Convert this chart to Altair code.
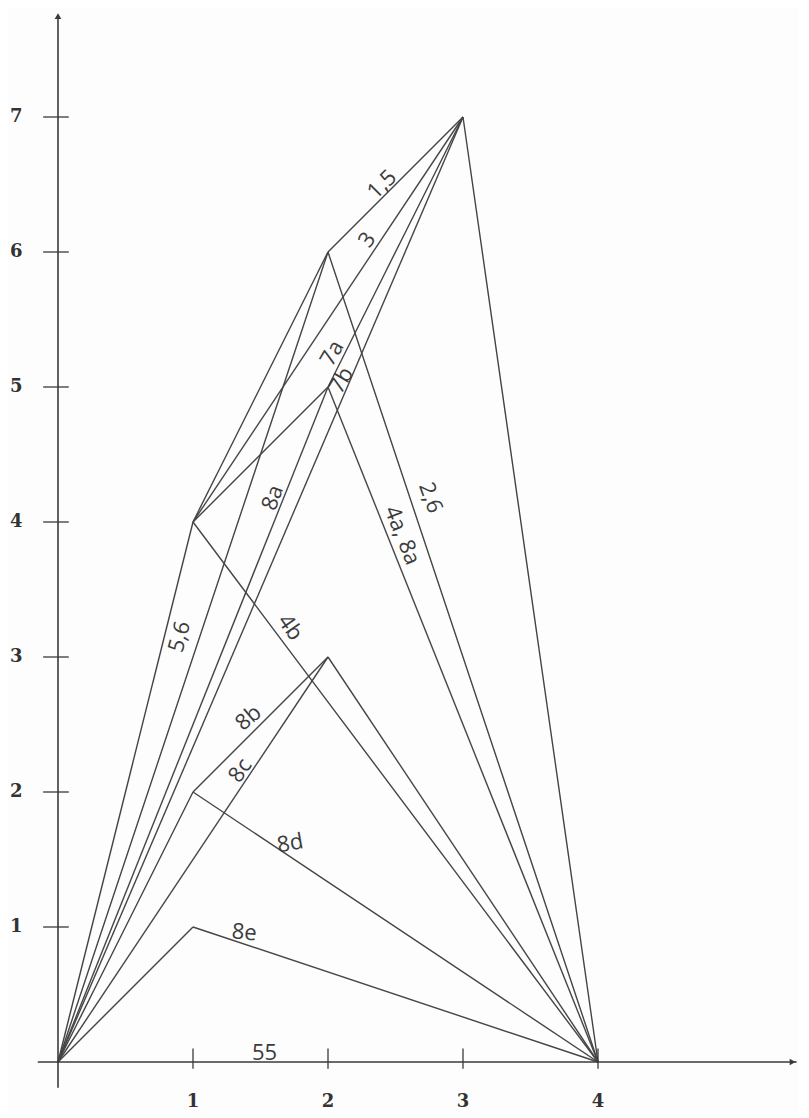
import altair as alt
import pandas as pd

# ---- data ----
# segments of the drawn paths (start x, start y, end x, end y)
seg_x1 = [0, 0, 0, 0, 0, 0, 0, 1, 1, 1, 1, 2, 2, 2, 2, 3, 1, 1, 2, 1]
seg_y1 = [0, 0, 0, 0, 0, 0, 0, 4, 4, 4, 4, 6, 6, 5, 5, 7, 2, 2, 3, 1]
seg_x2 = [1, 2, 2, 3, 1, 2, 1, 2, 2, 3, 4, 3, 4, 3, 4, 4, 2, 4, 4, 4]
seg_y2 = [4, 6, 5, 7, 2, 3, 1, 6, 5, 7, 0, 7, 0, 7, 0, 0, 3, 0, 0, 0]

# handwritten labels
lab_text = ["1,5", "3", "7a", "7b", "2,6", "4a, 8a", "8a", "4b", "5,6",
            "8b", "8c", "8d", "8e", "55"]
lab_x = [2.40, 2.29, 2.03, 2.10, 2.76, 2.55, 1.59, 1.72, 0.90,
         1.41, 1.35, 1.72, 1.38, 1.53]
lab_y = [6.50, 6.09, 5.25, 5.05, 4.18, 3.90, 4.18, 3.22, 3.15,
         2.55, 2.16, 1.62, 0.96, 0.07]
lab_angle = [315, 305, 300, 300, 70, 68, 290, 55, 285,
             320, 305, 350, 5, 0]

x_ticks = [1, 2, 3, 4]
y_ticks = [1, 2, 3, 4, 5, 6, 7]

# ---- scales (135 px per unit, origin at page px (58, 1062)) ----
W, H = 790, 1104
xmin = -50 / 135
xmax = xmin + W / 135
ymax = 1054 / 135
ymin = ymax - H / 135
xs = alt.Scale(domain=[xmin, xmax], nice=False, zero=False)
ys = alt.Scale(domain=[ymin, ymax], nice=False, zero=False)

ink = "#454545"

segs = pd.DataFrame({"x": seg_x1, "y": seg_y1, "x2": seg_x2, "y2": seg_y2})
seg_layer = alt.Chart(segs).mark_rule(color=ink, strokeWidth=1.4).encode(
    x=alt.X("x:Q", scale=xs, axis=None),
    y=alt.Y("y:Q", scale=ys, axis=None),
    x2="x2:Q", y2="y2:Q",
)

# axis lines
axes_df = pd.DataFrame({"x": [-0.15, 0], "y": [0, -0.19],
                        "x2": [xmax - 0.01, 0], "y2": [0, ymax - 0.05]})
axes_layer = alt.Chart(axes_df).mark_rule(color="#3a3a3a", strokeWidth=1.6).encode(
    x=alt.X("x:Q", scale=xs), y=alt.Y("y:Q", scale=ys), x2="x2:Q", y2="y2:Q")

xt = pd.DataFrame({"x": x_ticks, "y": [-0.05] * 4, "x2": x_ticks, "y2": [0.10] * 4})
yt = pd.DataFrame({"x": [-0.11] * 7, "y": y_ticks, "x2": [0.08] * 7, "y2": y_ticks})
tick_layer = alt.Chart(pd.concat([xt, yt])).mark_rule(color="#3a3a3a", strokeWidth=1.3).encode(
    x=alt.X("x:Q", scale=xs), y=alt.Y("y:Q", scale=ys), x2="x2:Q", y2="y2:Q")

arrows = pd.DataFrame({"x": [0, xmax - 0.04], "y": [ymax - 0.06, 0],
                       "shape": ["triangle-up", "triangle-right"]})
arrow_layer = alt.Chart(arrows).mark_point(filled=True, color="#3a3a3a", size=45, opacity=1).encode(
    x=alt.X("x:Q", scale=xs), y=alt.Y("y:Q", scale=ys),
    shape=alt.Shape("shape:N", scale=None))

xl = pd.DataFrame({"x": x_ticks, "y": [-0.363] * 4, "t": [str(v) for v in x_ticks]})
xl_layer = alt.Chart(xl).mark_text(
    font="DejaVu Serif", fontSize=18, fontWeight="bold", color="#333333",
    baseline="bottom", align="center").encode(
    x=alt.X("x:Q", scale=xs), y=alt.Y("y:Q", scale=ys), text="t:N")
yl = pd.DataFrame({"x": [-0.31] * 7, "y": y_ticks, "t": [str(v) for v in y_ticks]})
yl_layer = alt.Chart(yl).mark_text(
    font="DejaVu Serif", fontSize=18, fontWeight="bold", color="#333333",
    baseline="middle", align="center").encode(
    x=alt.X("x:Q", scale=xs), y=alt.Y("y:Q", scale=ys), text="t:N")

labs = pd.DataFrame({"t": lab_text, "x": lab_x, "y": lab_y, "a": lab_angle})
lab_layer = alt.Chart(labs).mark_text(
    font="Open Sans", fontSize=22, color="#3c3c3c", baseline="middle",
    align="center").encode(
    x=alt.X("x:Q", scale=xs), y=alt.Y("y:Q", scale=ys), text="t:N",
    angle=alt.Angle("a:Q", scale=None))

chart = alt.layer(seg_layer, axes_layer, tick_layer, arrow_layer, xl_layer, yl_layer, lab_layer).properties(
    width=W, height=H, padding=0, autosize=alt.AutoSizeParams(type="none"),
    background="#fdfdfd",
).configure_view(stroke=None)

chart.save("out.html", embed_options={"renderer": "svg", "actions": False})
